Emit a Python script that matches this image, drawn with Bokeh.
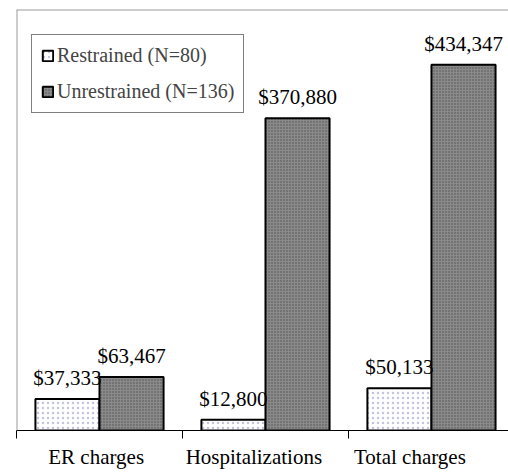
from bokeh.plotting import figure
from bokeh.models import ColumnDataSource, Range1d, FixedTicker, LinearAxis, Span, Legend, LegendItem
from bokeh.core.properties import value
from bokeh.transform import dodge
from bokeh.embed import file_html
from bokeh.resources import INLINE

categories = ["ER charges", "Hospitalizations", "Total charges"]
series_names = ["Restrained (N=80)", "Unrestrained (N=136)"]
restrained = [37333, 12800, 50133]
unrestrained = [63467, 370880, 434347]

FONT = "Liberation Serif"

pos = [i + 0.5 for i in range(len(categories))]
src = ColumnDataSource(dict(
    x=pos,
    restrained=restrained,
    unrestrained=unrestrained,
    rlab=["${:,}".format(v) for v in restrained],
    ulab=["${:,}".format(v) for v in unrestrained],
))

p = figure(width=508, height=472, output_backend="svg", toolbar_location=None,
           title=None,
           x_range=Range1d(0, 2.964), y_range=Range1d(0, 500000),
           min_border_left=16, min_border_right=0, min_border_top=9, min_border_bottom=42)
p.xaxis.visible = False
p.yaxis.visible = False
p.grid.visible = False
p.outline_line_color = None
p.background_fill_color = "white"

bw = 0.386
off = 0.193
r1 = p.vbar(x=dodge("x", -off), top="restrained", width=bw, source=src,
            fill_color="white", line_color="black", line_width=2,
            hatch_pattern="dot", hatch_color="#c4c4e0", hatch_scale=5, hatch_weight=1)
r2 = p.vbar(x=dodge("x", off), top="unrestrained", width=bw, source=src,
            fill_color="#8a8a8a", line_color="black", line_width=2,
            hatch_pattern="dot", hatch_color="#4e4e4e", hatch_scale=3, hatch_weight=1)

p.text(x=dodge("x", -off), y="restrained", text="rlab", source=src,
       text_font=value(FONT), text_font_size="21px", text_align="center",
       text_baseline="bottom", y_offset=-9, text_color="black")
p.text(x=dodge("x", off), y="unrestrained", text="ulab", source=src,
       text_font=value(FONT), text_font_size="21px", text_align="center",
       text_baseline="bottom", y_offset=-9, text_color="black")

# frame lines (top and left)
p.add_layout(Span(location=500000, dimension="width", line_color="#9a9a9a", line_width=2))
p.add_layout(Span(location=0, dimension="height", line_color="#9a9a9a", line_width=2))

# category labels sit slightly left of the category centres, as in the original
label_ticks = [0.48, 1.43, 2.37]
ax = LinearAxis(ticker=FixedTicker(ticks=label_ticks, minor_ticks=[0, 1, 2, 3]))
ax.major_label_overrides = {label_ticks[i]: categories[i] for i in range(len(categories))}
ax.major_label_text_font = FONT
ax.major_label_text_font_size = "21px"
ax.major_label_text_color = "black"
ax.major_tick_out = 0
ax.major_tick_in = 0
ax.minor_tick_out = 8
ax.minor_tick_in = 0
ax.minor_tick_line_color = "black"
ax.axis_line_color = "black"
ax.axis_line_width = 1
ax.major_label_standoff = 6
p.add_layout(ax, "below")

legend = Legend(items=[LegendItem(label=series_names[0], renderers=[r1]),
                       LegendItem(label=series_names[1], renderers=[r2])],
                location=(15, 317))
legend.label_text_font = FONT
legend.label_text_font_size = "20px"
legend.glyph_width = 13
legend.glyph_height = 13
legend.label_height = 22
legend.label_standoff = 3
legend.spacing = 13
legend.padding = 9
legend.margin = 0
legend.border_line_color = "black"
legend.border_line_width = 1
legend.background_fill_color = "white"
legend.background_fill_alpha = 1
p.add_layout(legend, "center")

open("out.html", "w").write(file_html(p, INLINE))
